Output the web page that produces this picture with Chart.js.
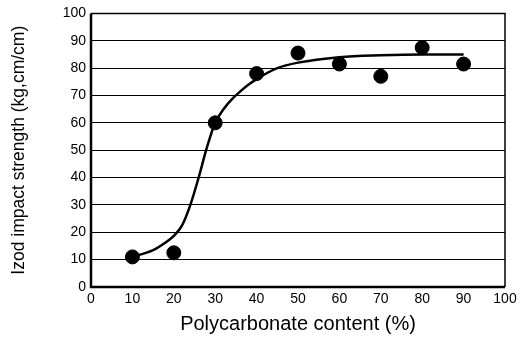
<!DOCTYPE html>
<html>
<head>
<meta charset="utf-8">
<script src="https://cdn.jsdelivr.net/npm/chart.js@4"></script>
<style>
  html, body { margin: 0; padding: 0; background: #fff; }
  #wrap { width: 528px; height: 340px; }
</style>
</head>
<body>
<div id="wrap"><canvas id="izodChart" width="528" height="340"></canvas></div>
<script>
// measured points
const contentPct = [10, 20, 30, 40, 50, 60, 70, 80, 90];
const izodValues = [11, 12.5, 60, 78, 85.5, 81.5, 77, 87.5, 81.5];

// fitted curve
const curveX = [10, 15, 18, 20, 22, 24, 26, 28, 30, 32, 34, 36, 38, 40, 45, 50, 60, 70, 80, 90];
const curveY = [11, 13.5, 16.3, 18.7, 22.5, 30, 40, 51, 60, 65, 68.6, 71.4, 73.9, 76, 80, 82, 84, 84.7, 85, 85];

const xTicks = [0, 10, 20, 30, 40, 50, 60, 70, 80, 90, 100];
const yTicks = [0, 10, 20, 30, 40, 50, 60, 70, 80, 90, 100];

const FONT = '"Liberation Sans", Arial, sans-serif';

// frame around the plot area
const frame = {
  id: 'frame',
  afterDatasetsDraw(chart) {
    const { ctx, chartArea: a } = chart;
    ctx.save();
    ctx.strokeStyle = '#000';
    ctx.lineWidth = 1.5;
    ctx.beginPath();
    ctx.moveTo(a.left, a.top);
    ctx.lineTo(a.right, a.top);
    ctx.lineTo(a.right, a.bottom);
    ctx.stroke();
    ctx.lineWidth = 2.5;
    ctx.beginPath();
    ctx.moveTo(a.left, a.top);
    ctx.lineTo(a.left, a.bottom);
    ctx.lineTo(a.right, a.bottom);
    ctx.stroke();
    ctx.restore();
  }
};

new Chart(document.getElementById('izodChart'), {
  type: 'scatter',
  data: {
    datasets: [{
      label: 'fit',
      type: 'line',
      data: curveX.map((x, i) => ({ x: x, y: curveY[i] })),
      borderColor: '#000',
      borderWidth: 2.5,
      pointRadius: 0,
      cubicInterpolationMode: 'monotone',
      fill: false
    }, {
      label: 'measured',
      data: contentPct.map((x, i) => ({ x: x, y: izodValues[i] })),
      backgroundColor: '#000',
      borderColor: '#000',
      pointRadius: 7
    }]
  },
  options: {
    responsive: false,
    animation: false,
    layout: { padding: { top: 13, right: 23, left: 0, bottom: 0 } },
    plugins: { legend: { display: false }, tooltip: { enabled: false } },
    scales: {
      x: {
        type: 'linear',
        min: 0, max: 100,
        afterBuildTicks: s => { s.ticks = xTicks.map(v => ({ value: v })); },
        afterFit: s => { s.height = 53; },
        grid: { display: false, drawTicks: false },
        border: { display: false },
        ticks: { color: '#000', font: { family: FONT, size: 14 }, padding: 4, maxRotation: 0 },
        title: { display: true, text: 'Polycarbonate content (%)', color: '#000',
                 font: { family: FONT, size: 20 }, padding: { top: 2 } }
      },
      y: {
        min: 0, max: 100,
        afterBuildTicks: s => { s.ticks = yTicks.map(v => ({ value: v })); },
        afterFit: s => { s.width = 91; },
        grid: { color: '#000', lineWidth: 1, drawTicks: false },
        border: { display: false },
        ticks: { color: '#000', font: { family: FONT, size: 14 }, padding: 5 },
        title: { display: true, text: 'Izod impact strength (kg,cm/cm)', color: '#000',
                 font: { family: FONT, size: 17.5 }, padding: { top: 9, bottom: 2 } }
      }
    }
  },
  plugins: [frame]
});
</script>
</body>
</html>
